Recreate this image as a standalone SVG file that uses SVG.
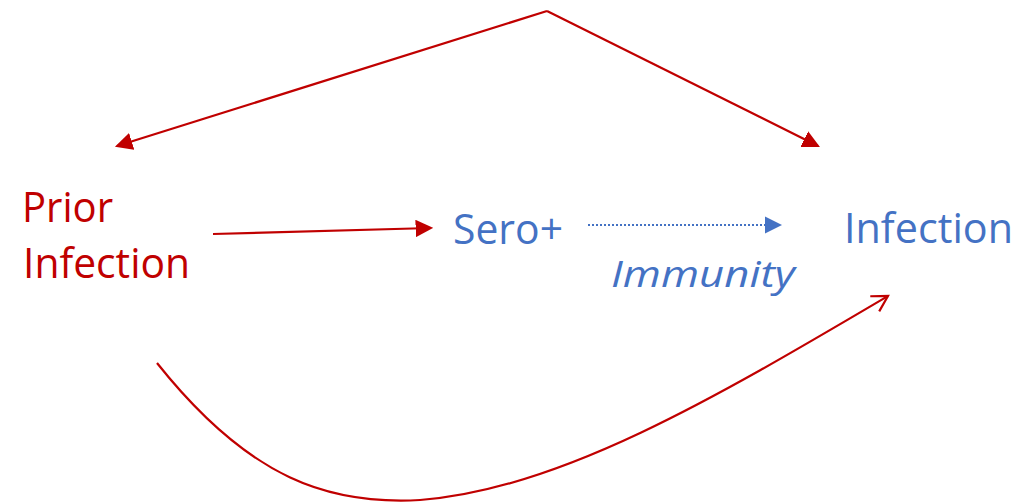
<svg xmlns="http://www.w3.org/2000/svg" width="1021" height="504" viewBox="0 0 1021 504">
  <style>
    .red { fill: #C00000; }
    .blue { fill: #4472C4; }
    .label { font-family: "Open Sans", "Liberation Sans", sans-serif; font-size: 42px; }
    .ital { font-family: "Open Sans", "Liberation Sans", sans-serif; font-size: 36px; font-style: italic; }
    .edge { fill: none; stroke: #C00000; stroke-width: 2.2; }
  </style>
  <defs>
    <marker id="tri-red" markerWidth="8" markerHeight="8" refX="7" refY="4" orient="auto" markerUnits="strokeWidth">
      <path d="M0,0 L8,4 L0,8 Z" fill="#C00000"/>
    </marker>
    <marker id="tri-blue" markerWidth="8" markerHeight="8" refX="7" refY="4" orient="auto" markerUnits="strokeWidth">
      <path d="M0,0 L8,4 L0,8 Z" fill="#4472C4"/>
    </marker>
    <marker id="open-red" markerWidth="10" markerHeight="10" refX="8" refY="4.5" orient="auto" markerUnits="strokeWidth">
      <path d="M1,0.5 L8,4.5 L1,8.5" fill="none" stroke="#C00000" stroke-width="1"/>
    </marker>
  </defs>

  <g id="connectors">
    <!-- common cause fork from top -->
    <path class="edge" d="M547,11 L117,146" marker-end="url(#tri-red)"/>
    <path class="edge" d="M547,11 L818,146" marker-end="url(#tri-red)"/>
    <!-- prior infection to sero+ -->
    <path class="edge" d="M213,234 L431,228" marker-end="url(#tri-red)"/>
    <!-- immunity (dotted) -->
    <path d="M588,225 L780,225" fill="none" stroke="#4472C4" stroke-width="2.2" stroke-dasharray="2,2" marker-end="url(#tri-blue)"/>
    <!-- direct path below -->
    <path class="edge" d="M157,363 C250,480 330,505 420,500 C560,490 720,395 888,296" marker-end="url(#open-red)"/>
  </g>

  <g id="prior-infection">
    <text class="label red" x="22" y="222" textLength="91" lengthAdjust="spacingAndGlyphs">Prior</text>
    <text class="label red" x="23" y="278" textLength="167" lengthAdjust="spacingAndGlyphs">Infection</text>
  </g>
  <g id="sero-positive">
    <text class="label blue" x="453" y="244" textLength="110" lengthAdjust="spacingAndGlyphs">Sero+</text>
  </g>
  <g id="infection">
    <text class="label blue" x="844" y="243" textLength="169" lengthAdjust="spacingAndGlyphs">Infection</text>
  </g>
  <g id="immunity-label">
    <text class="ital blue" x="611" y="287" textLength="184" lengthAdjust="spacingAndGlyphs">Immunity</text>
  </g>
</svg>
